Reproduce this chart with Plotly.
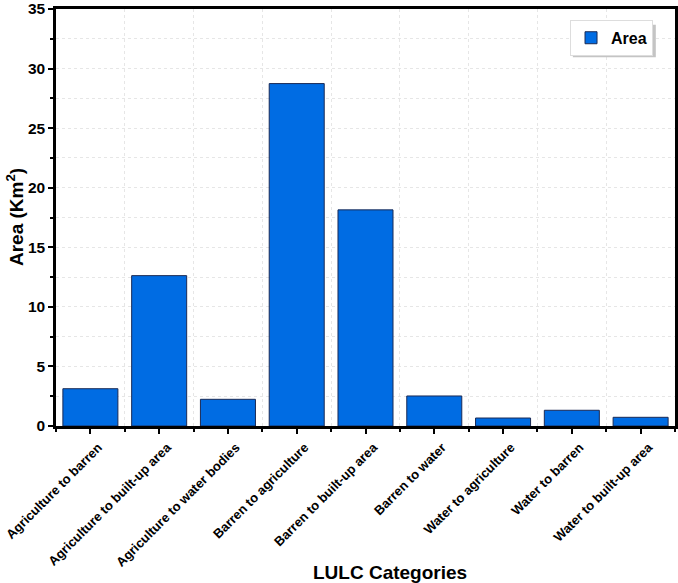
import plotly.graph_objects as go

categories = ["Agriculture to barren", "Agriculture to built-up area",
              "Agriculture to water bodies", "Barren to agriculture",
              "Barren to built-up area", "Barren to water",
              "Water to agriculture", "Water to barren", "Water to built-up area"]
area = [3.13, 12.62, 2.24, 28.74, 18.14, 2.52, 0.67, 1.32, 0.73]
y_ticks = [0, 5, 10, 15, 20, 25, 30, 35]

positions = list(range(len(categories)))
font_family = "Liberation Sans, Arial, sans-serif"
title_font = dict(size=19, family=font_family, weight="bold", color="black")

fig = go.Figure()
fig.add_trace(go.Bar(x=positions, y=area, name="Area", width=0.8,
                     marker=dict(color="#006ce3", line=dict(color="#1a2a55", width=1)),
                     showlegend=True))

# legend drop shadow
fig.add_shape(type="rect", xref="paper", yref="paper", x0=0.835, x1=0.969, y0=0.884, y1=0.962,
              fillcolor="#c4c4c4", line=dict(width=0), layer="above")

# axis titles as annotations so they can sit where the original has them
fig.add_annotation(text="LULC Categories", xref="paper", yref="paper",
                   x=0.54, y=-0.322, xanchor="center", yanchor="top", showarrow=False,
                   font=title_font)
fig.add_annotation(text="Area (Km<sup>2</sup>)", xref="paper", yref="paper",
                   x=-0.067, y=0.5, xanchor="center", yanchor="middle", showarrow=False,
                   textangle=-90, font=title_font)

grid = dict(gridcolor="#e6e6e6", griddash="dot", gridwidth=1)

fig.update_layout(
    width=678, height=583,
    margin=dict(l=56, r=3, t=9, b=157),
    plot_bgcolor="white", paper_bgcolor="white",
    font=dict(family=font_family, color="black"),
    legend=dict(x=0.9645, y=0.974, xanchor="right", yanchor="top",
                bgcolor="white", bordercolor="#dddddd", borderwidth=1,
                font=dict(size=16, family=font_family, weight="bold"),
                itemwidth=30),
)

fig.update_xaxes(
    range=[-0.5, 8.5], tickmode="array", tickvals=positions, ticktext=categories,
    tickangle=-45, tickfont=dict(size=13, family=font_family, weight="bold"),
    ticklabeloverflow="allow", ticklabelshift=8, ticklabelstandoff=1,
    ticks="outside", ticklen=5, tickwidth=2, tickcolor="black",
    showline=True, linecolor="black", linewidth=2.5, mirror=True,
    showgrid=False, zeroline=False, automargin=False,
    minor=dict(tick0=0.5, dtick=1, ticks="outside", ticklen=3, tickwidth=2,
               tickcolor="black", showgrid=True, **grid),
)

fig.update_yaxes(
    range=[0, 35], tickmode="array", tickvals=y_ticks,
    tickfont=dict(size=15.5, family=font_family, weight="bold"),
    ticklabeloverflow="allow",
    ticks="outside", ticklen=5, tickwidth=2, tickcolor="black",
    showline=True, linecolor="black", linewidth=2.5, mirror=True,
    showgrid=True, zeroline=False, automargin=False, **grid,
    minor=dict(dtick=2.5, ticks="outside", ticklen=3, tickwidth=2,
               tickcolor="black", showgrid=True, **grid),
)

# drop the page's default body margin so the figure fills the window exactly
fig.write_html("out.html", config={"displayModeBar": False},
               post_script="document.body.style.margin = '0';")
